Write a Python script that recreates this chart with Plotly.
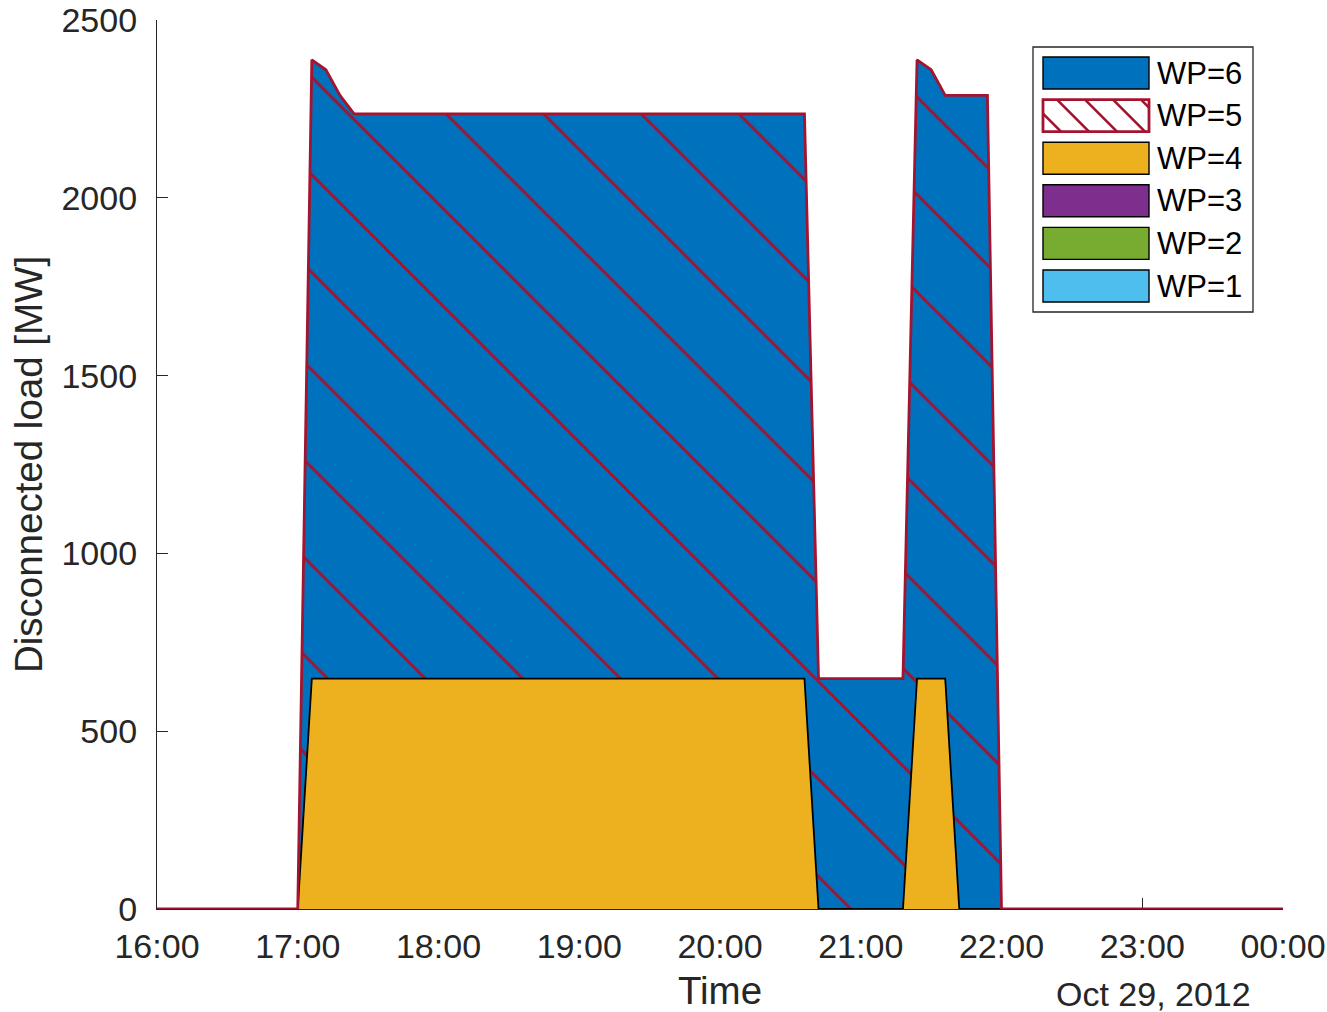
import numpy as np
import plotly.graph_objects as go

# ---------------- data ----------------
times = ["2012-10-29 16:00", "2012-10-29 17:00", "2012-10-29 17:06", "2012-10-29 17:12",
         "2012-10-29 17:18", "2012-10-29 17:24", "2012-10-29 20:36", "2012-10-29 20:42",
         "2012-10-29 21:18", "2012-10-29 21:24", "2012-10-29 21:30", "2012-10-29 21:36",
         "2012-10-29 21:42", "2012-10-29 21:54", "2012-10-29 22:00", "2012-10-30 00:00"]
wp1 = [0, 0, 0, 0, 0, 0, 0, 0, 0, 0, 0, 0, 0, 0, 0, 0]
wp2 = [0, 0, 0, 0, 0, 0, 0, 0, 0, 0, 0, 0, 0, 0, 0, 0]
wp3 = [0, 0, 0, 0, 0, 0, 0, 0, 0, 0, 0, 0, 0, 0, 0, 0]
wp4 = [0, 0, 648, 648, 648, 648, 648, 0, 0, 648, 648, 648, 0, 0, 0, 0]
wp5 = [0, 0, 1740, 1712, 1640, 1588, 1588, 648, 648, 1740, 1712, 1640, 2288, 2288, 0, 0]
wp6 = [0, 0, 0, 0, 0, 0, 0, 0, 0, 0, 0, 0, 0, 0, 0, 0]

legend_labels = ["WP=6", "WP=5", "WP=4", "WP=3", "WP=2", "WP=1"]
legend_colors = ["#0072BD", "white", "#EDB120", "#7E2F8E", "#77AC30", "#4DBEEE"]

x_ticks = ["2012-10-29 16:00", "2012-10-29 17:00", "2012-10-29 18:00", "2012-10-29 19:00",
           "2012-10-29 20:00", "2012-10-29 21:00", "2012-10-29 22:00", "2012-10-29 23:00",
           "2012-10-30 00:00"]
x_ticklabels = ["16:00", "17:00", "18:00", "19:00", "20:00", "21:00", "22:00", "23:00", "00:00"]
y_ticks = [0, 500, 1000, 1500, 2000, 2500]

# stacked levels
base = np.array(wp1) + np.array(wp2) + np.array(wp3)
y4 = base + np.array(wp4)
y5 = y4 + np.array(wp5)
y6 = y5 + np.array(wp6)

BLUE = "#0072BD"
RED = "#A2142F"
YEL = "#EDB120"
AX = "#262626"
FONT = "Liberation Sans, Arial, sans-serif"

fig = go.Figure()
fig.add_trace(go.Scatter(x=times, y=y4, mode="lines", fill="tozeroy",
                         fillcolor=YEL, line=dict(color="black", width=1.8),
                         showlegend=False, cliponaxis=False, hoverinfo="skip"))
fig.add_trace(go.Scatter(x=times, y=y6, mode="lines", fill="tonexty",
                         fillpattern=dict(shape="\\", bgcolor=BLUE, fgcolor=RED,
                                          size=69, solidity=0.042, fillmode="replace"),
                         line=dict(color=RED, width=2.8),
                         showlegend=False, cliponaxis=False, hoverinfo="skip"))

# ---------------- layout ----------------
W, H = 1327, 1012
L, R, T, B = 157, 1283, 20, 909


def px(xp):
    return (xp - L) / (R - L)


def py(yp):
    return (B - yp) / (B - T)


shapes = []
annotations = []

# legend box
shapes.append(dict(type="rect", xref="paper", yref="paper", x0=px(1033), x1=px(1253),
                   y0=py(312), y1=py(47), line=dict(color=AX, width=1.3),
                   fillcolor="white", layer="above"))
row0, pitch, half = 73, 42.6, 16
sx0, sx1 = 1043, 1149
for i, (lab, col) in enumerate(zip(legend_labels, legend_colors)):
    cy = row0 + i * pitch
    top, bot = cy - half, cy + half
    if lab == "WP=5":
        # hatch lines
        h = bot - top
        for k in range(-2, 6):
            xt = 1057 + 28 * k
            xa, ya = xt, top
            xb, yb = xt + h, bot
            if xb <= sx0 or xa >= sx1:
                continue
            if xa < sx0:
                ya = top + (sx0 - xa)
                xa = sx0
            if xb > sx1:
                yb = bot - (xb - sx1)
                xb = sx1
            shapes.append(dict(type="line", xref="paper", yref="paper",
                               x0=px(xa), y0=py(ya), x1=px(xb), y1=py(yb),
                               line=dict(color=RED, width=2.6), layer="above"))
        shapes.append(dict(type="rect", xref="paper", yref="paper", x0=px(sx0), x1=px(sx1),
                           y0=py(bot), y1=py(top), line=dict(color=RED, width=2.8),
                           fillcolor="rgba(0,0,0,0)", layer="above"))
    else:
        shapes.append(dict(type="rect", xref="paper", yref="paper", x0=px(sx0), x1=px(sx1),
                           y0=py(bot), y1=py(top), line=dict(color="black", width=1.4),
                           fillcolor=col, layer="above"))
    annotations.append(dict(x=px(1155), y=py(cy), xref="paper", yref="paper", text=lab,
                            showarrow=False, xanchor="left", yanchor="middle",
                            font=dict(family=FONT, size=31, color="black")))

# date label
annotations.append(dict(x=px(1253), y=py(994), xref="paper", yref="paper", text="Oct 29, 2012",
                        showarrow=False, xanchor="right", yanchor="middle",
                        font=dict(family=FONT, size=34, color=AX)))

fig.update_layout(
    width=W, height=H,
    margin=dict(l=L, r=W - R, t=T, b=H - B, pad=0, autoexpand=False),
    paper_bgcolor="white", plot_bgcolor="white",
    font=dict(family=FONT, size=34, color=AX),
    showlegend=False,
    shapes=shapes, annotations=annotations,
    xaxis=dict(range=[times[0], times[-1]], tickvals=x_ticks, ticktext=x_ticklabels,
               automargin=False,
               ticks="inside", ticklen=11, tickwidth=1.3, tickcolor=AX,
               showline=True, linecolor=AX, linewidth=1.3, showgrid=False, zeroline=False,
               tickfont=dict(size=34, color=AX), ticklabelstandoff=7,
               title=dict(text="Time", font=dict(size=38.5, color=AX), standoff=18),
               layer="below traces"),
    yaxis=dict(range=[0, 2500], tickvals=y_ticks, ticks="inside", ticklen=11, tickwidth=1.3,
               automargin=False,
               tickcolor=AX, showline=True, linecolor=AX, linewidth=1.3, showgrid=False,
               zeroline=False, tickfont=dict(size=34, color=AX), ticklabelstandoff=12,
               title=dict(text="Disconnected load [MW]", font=dict(size=38.5, color=AX),
                          standoff=6),
               layer="below traces"),
)

fig.write_html("out.html", config={"displayModeBar": False},
               post_script="document.body.style.margin='0';document.body.style.overflow='hidden';")
